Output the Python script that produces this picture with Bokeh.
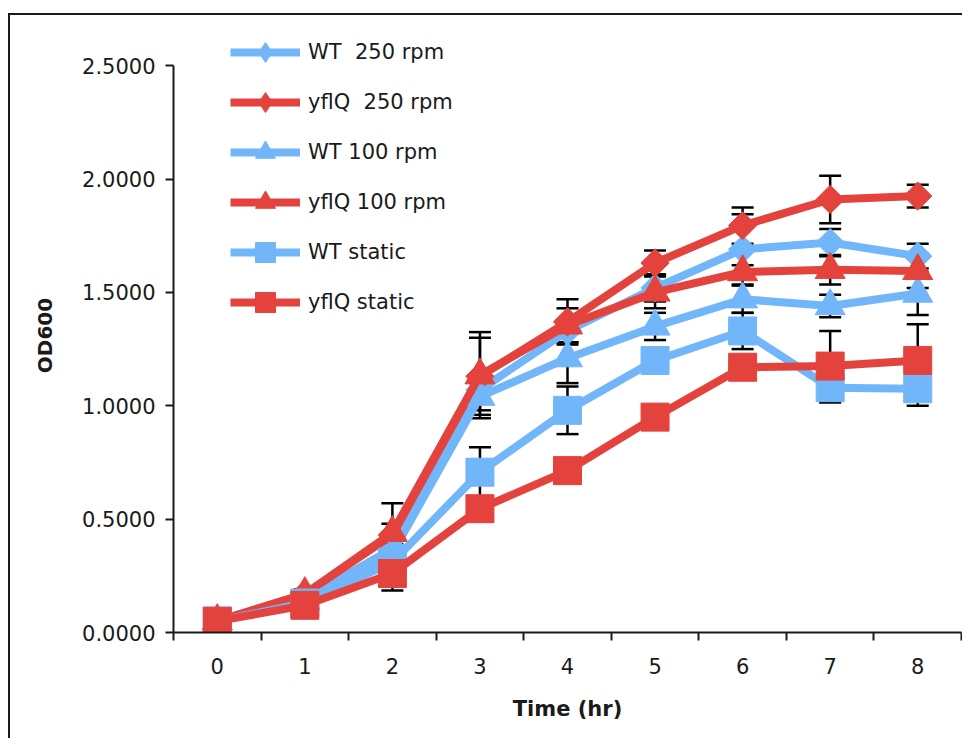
import math
from bokeh.plotting import figure
from bokeh.models import (ColumnDataSource, Range1d, FixedTicker, NumeralTickFormatter,
                          Whisker, TeeHead, Legend, LegendItem)
from bokeh.embed import file_html
from bokeh.resources import INLINE

# ---- data ----
hours = [0, 1, 2, 3, 4, 5, 6, 7, 8]

series_names = ["WT  250 rpm", "yflQ  250 rpm", "WT 100 rpm",
                "yflQ 100 rpm", "WT static", "yflQ static"]

wt_250 = [0.05, 0.15, 0.37, 1.07, 1.33, 1.52, 1.69, 1.72, 1.66]
yflq_250 = [0.05, 0.17, 0.43, 1.13, 1.37, 1.63, 1.795, 1.91, 1.925]
wt_100 = [0.05, 0.14, 0.35, 1.04, 1.21, 1.35, 1.47, 1.44, 1.495]
yflq_100 = [0.05, 0.17, 0.44, 1.135, 1.355, 1.50, 1.59, 1.60, 1.595]
wt_static = [0.05, 0.13, 0.31, 0.707, 0.98, 1.20, 1.33, 1.08, 1.075]
yflq_static = [0.05, 0.12, 0.26, 0.546, 0.714, 0.95, 1.17, 1.175, 1.20]

err_wt_250 = [0.005, 0.02, 0.04, 0.05, 0.05, 0.06, 0.155, 0.06, 0.055]
err_yflq_250 = [0.005, 0.02, 0.05, 0.17, 0.10, 0.055, 0.08, 0.105, 0.05]
err_wt_100 = [0.005, 0.02, 0.04, 0.06, 0.11, 0.06, 0.06, 0.05, 0.095]
err_yflq_100 = [0.005, 0.02, 0.13, 0.19, 0.075, 0.07, 0.03, 0.065, 0.075]
err_wt_static = [0.005, 0.02, 0.05, 0.11, 0.105, 0.04, 0.08, 0.065, 0.075]
err_yflq_static = [0.005, 0.02, 0.075, 0.03, 0.03, 0.03, 0.05, 0.155, 0.16]

y_ticks = [0.0, 0.5, 1.0, 1.5, 2.0, 2.5]

BLUE = "#72B6FA"
RED = "#E4433D"
INK = "#1a1a1a"
FONT = "DejaVu Sans"

series = [
    (series_names[0], wt_250, err_wt_250, BLUE, "diamond"),
    (series_names[1], yflq_250, err_yflq_250, RED, "diamond"),
    (series_names[2], wt_100, err_wt_100, BLUE, "triangle"),
    (series_names[3], yflq_100, err_yflq_100, RED, "triangle"),
    (series_names[4], wt_static, err_wt_static, BLUE, "square"),
    (series_names[5], yflq_static, err_yflq_static, RED, "square"),
]

W, H = 954, 725
p = figure(width=W, height=H, output_backend="svg", toolbar_location=None,
           x_range=Range1d(hours[0] - 0.5, hours[-1] + 0.5),
           y_range=Range1d(0, 2.62),
           min_border_left=163, min_border_right=3,
           min_border_top=23, min_border_bottom=108)
p.margin = (13, 0, 0, 8)
p.styles = {"border-left": "2px solid #1a1a1a", "border-top": "2px solid #1a1a1a"}
p.outline_line_color = None
p.xgrid.visible = False
p.ygrid.visible = False
p.background_fill_color = "white"
p.border_fill_color = "white"

items = []
for name, vals, errs, color, marker in series:
    src = ColumnDataSource(dict(x=hours, y=vals,
                                upper=[v + e for v, e in zip(vals, errs)],
                                lower=[v - e for v, e in zip(vals, errs)]))
    wh = Whisker(base="x", upper="upper", lower="lower", source=src,
                 line_color="black", line_width=2.5,
                 upper_head=TeeHead(size=22, line_color="black", line_width=2.5),
                 lower_head=TeeHead(size=22, line_color="black", line_width=2.5))
    p.add_layout(wh)
    lr = p.line("x", "y", source=src, line_color=color, line_width=8)
    if marker == "diamond":
        # legend-friendly diamond (covered in the plot by the rotated square drawn on top)
        lg = p.scatter("x", "y", source=src, marker="diamond", size=24,
                       fill_color=color, line_color=color, line_width=1)
        p.scatter("x", "y", source=src, marker="square", angle=math.pi / 4,
                  size=20, fill_color=color, line_color=color, line_width=1)
        sr = lg
    elif marker == "triangle":
        sr = p.scatter("x", "y", source=src, marker="triangle", size=30,
                       fill_color=color, line_color=color, line_width=1)
    else:
        sr = p.scatter("x", "y", source=src, marker="square", size=28,
                       fill_color=color, line_color=color, line_width=1)
    items.append(LegendItem(label=name, renderers=[lr, sr]))

# axes
xa = p.xaxis[0]
xa.ticker = FixedTicker(ticks=hours, minor_ticks=[h - 0.5 for h in hours] + [hours[-1] + 0.5])
xa.major_tick_out = 0
xa.major_tick_in = 0
xa.minor_tick_out = 8
xa.minor_tick_in = 0
xa.minor_tick_line_width = 2
xa.minor_tick_line_color = INK
xa.axis_line_width = 2
xa.axis_line_color = INK
xa.major_label_standoff = 17
xa.major_label_text_font = FONT
xa.major_label_text_font_size = "21px"
xa.major_label_text_color = INK
xa.axis_label = "Time (hr)"
xa.axis_label_text_font = FONT
xa.axis_label_text_font_style = "bold"
xa.axis_label_text_font_size = "21px"
xa.axis_label_text_color = INK
xa.axis_label_standoff = 20

ya = p.yaxis[0]
ya.ticker = FixedTicker(ticks=y_ticks, minor_ticks=[])
ya.bounds = (y_ticks[0], y_ticks[-1])
ya.formatter = NumeralTickFormatter(format="0.0000")
ya.major_tick_out = 8
ya.major_tick_in = 0
ya.major_tick_line_width = 2
ya.major_tick_line_color = INK
ya.axis_line_width = 2
ya.axis_line_color = INK
ya.major_label_standoff = 10
ya.major_label_text_font = FONT
ya.major_label_text_font_size = "21px"
ya.major_label_text_color = INK
ya.axis_label = "OD600"
ya.axis_label_text_font = FONT
ya.axis_label_text_font_style = "bold"
ya.axis_label_text_font_size = "20px"
ya.axis_label_text_color = INK
ya.axis_label_standoff = 22

legend = Legend(items=items, location=(57, 305), glyph_width=70, glyph_height=50,
                label_height=50, spacing=0, padding=0, margin=0, label_standoff=8,
                label_text_font=FONT, label_text_font_size="21px",
                label_text_color=INK, border_line_alpha=0, background_fill_alpha=0)
p.add_layout(legend)

open("out.html", "w").write(file_html(p, INLINE))
